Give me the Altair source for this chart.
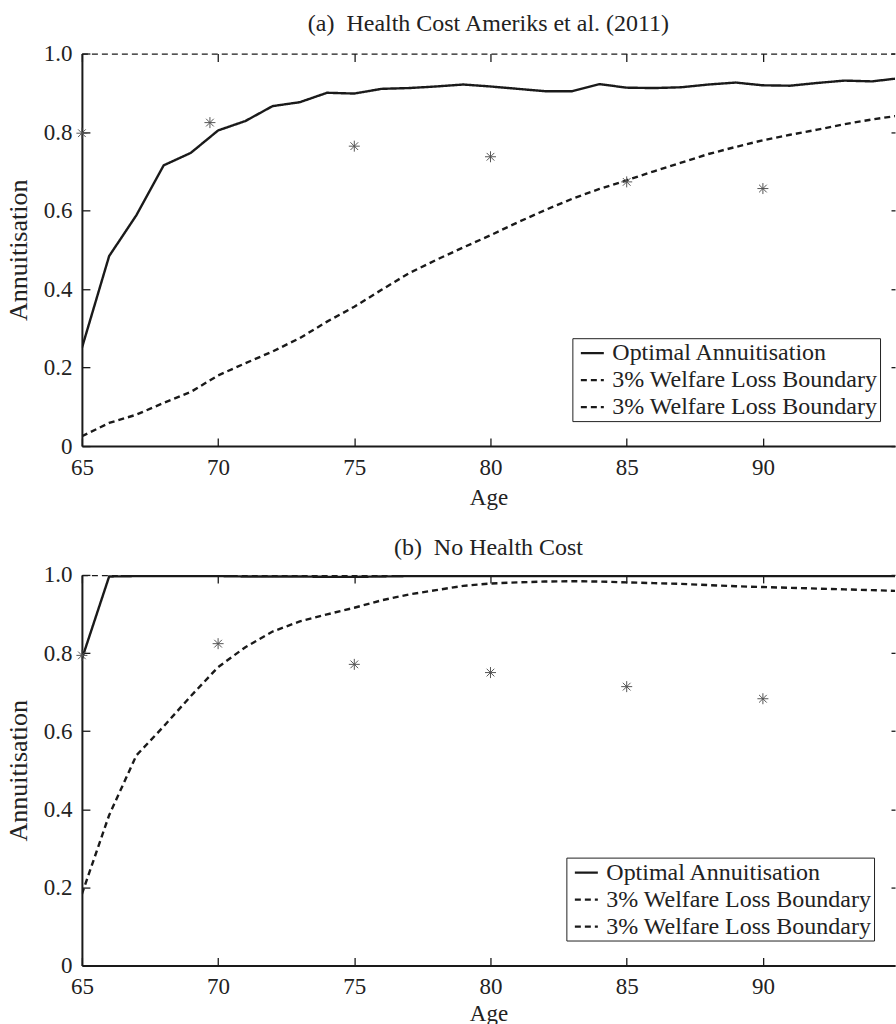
import altair as alt
import pandas as pd

FONT = "Liberation Serif"

AGES = [65, 66, 67, 68, 69, 70, 71, 72, 73, 74, 75, 76, 77, 78, 79, 80,
        81, 82, 83, 84, 85, 86, 87, 88, 89, 90, 91, 92, 93, 94, 95]

# Panel (a): Health Cost Ameriks et al. (2011)
OPT_A = [0.250, 0.484, 0.588, 0.715, 0.747, 0.804, 0.828, 0.866, 0.876, 0.900, 0.898,
         0.910, 0.912, 0.916, 0.921, 0.916, 0.910, 0.904, 0.904, 0.922, 0.913,
         0.912, 0.914, 0.921, 0.926, 0.919, 0.918, 0.925, 0.931, 0.929, 0.937]
LOW_A = [0.025, 0.059, 0.080, 0.110, 0.138, 0.180, 0.211, 0.241, 0.275, 0.317, 0.355,
         0.398, 0.440, 0.474, 0.506, 0.537, 0.570, 0.601, 0.630, 0.655, 0.677,
         0.700, 0.722, 0.744, 0.762, 0.779, 0.793, 0.806, 0.820, 0.832, 0.842]
UP_A = [1.0, 1.0, 1.0, 1.0, 1.0, 1.0, 1.0, 1.0, 1.0, 1.0, 1.0,
        1.0, 1.0, 1.0, 1.0, 1.0, 1.0, 1.0, 1.0, 1.0, 1.0,
        1.0, 1.0, 1.0, 1.0, 1.0, 1.0, 1.0, 1.0, 1.0, 1.0]
STAR_AGE_A = [65, 69.7, 75, 80, 85, 90]
STAR_A = [0.797, 0.824, 0.764, 0.737, 0.673, 0.656]

# Panel (b): No Health Cost
OPT_B = [0.785, 0.996, 0.997, 0.997, 0.997, 0.997, 0.996, 0.996, 0.996, 0.995, 0.995,
         0.996, 0.997, 0.997, 0.997, 0.997, 0.997, 0.997, 0.997, 0.997, 0.997,
         0.997, 0.997, 0.997, 0.997, 0.997, 0.997, 0.997, 0.997, 0.997, 0.997]
LOW_B = [0.183, 0.385, 0.538, 0.612, 0.690, 0.764, 0.815, 0.855, 0.881, 0.899, 0.916,
         0.935, 0.950, 0.961, 0.972, 0.978, 0.981, 0.983, 0.984, 0.983, 0.981,
         0.979, 0.977, 0.974, 0.971, 0.969, 0.967, 0.965, 0.963, 0.961, 0.959]
UP_B = [1.0, 1.0, 1.0, 1.0, 1.0, 1.0, 1.0, 1.0, 1.0, 1.0, 1.0,
        1.0, 1.0, 1.0, 1.0, 1.0, 1.0, 1.0, 1.0, 1.0, 1.0,
        1.0, 1.0, 1.0, 1.0, 1.0, 1.0, 1.0, 1.0, 1.0, 1.0]
STAR_AGE_B = [65, 70, 75, 80, 85, 90]
STAR_B = [0.794, 0.824, 0.771, 0.750, 0.714, 0.683]

SERIES = ["Optimal Annuitisation", "3% Welfare Loss Boundary", "3% Welfare Loss Boundary "]
X_TICKS = [65, 70, 75, 80, 85, 90]
Y_TICKS = [0, 0.2, 0.4, 0.6, 0.8, 1.0]
TITLE_A = "(a)\u00a0 Health Cost Ameriks et al. (2011)"
TITLE_B = "(b)\u00a0 No Health Cost"

ASTERISK = "M0,-1L0,1M-1,0L1,0M-0.7,-0.7L0.7,0.7M-0.7,0.7L0.7,-0.7"
INK = "#1a1a1a"


def make_panel(title, title_offset, opt, low, up, sx, sy, lx, ly, h, xtpad):
    n = len(AGES)
    df_bound = pd.DataFrame({"age": AGES + AGES, "val": low + up,
                             "series": [SERIES[1]] * n + [SERIES[2]] * n})
    df_opt = pd.DataFrame({"age": AGES, "val": opt, "series": [SERIES[0]] * n})
    df_star = pd.DataFrame({"age": sx, "val": sy})

    xs = alt.Scale(domain=[65, 94.85], nice=False, zero=False)
    ys = alt.Scale(domain=[0, 1], nice=False, zero=False)
    dash = alt.Scale(domain=SERIES, range=[[1, 0], [6, 4], [6, 4]])

    main_x = alt.Axis(orient="bottom", values=X_TICKS, title="Age", ticks=False, tickSize=0,
                      labelPadding=10, titlePadding=xtpad, domain=True, domainColor=INK,
                      domainWidth=2, grid=False, labelFlush=False, labelOverlap=False, format="d")
    main_y = alt.Axis(orient="left", values=Y_TICKS, title="Annuitisation", ticks=False,
                      tickSize=0, labelPadding=10, titlePadding=12, titleFontSize=26,
                      domain=True, domainColor=INK, domainWidth=2, grid=False,
                      labelFlush=False, labelOverlap=False,
                      labelExpr="datum.value == 0 ? '0' : format(datum.value, '.1f')")
    legend = alt.Legend(title=None, orient="none", legendX=lx, legendY=ly)

    bounds = alt.Chart(df_bound).mark_line(clip=True, strokeWidth=2.4, color=INK).encode(
        x=alt.X("age:Q", scale=xs, axis=main_x),
        y=alt.Y("val:Q", scale=ys, axis=main_y),
        strokeDash=alt.StrokeDash("series:N", scale=dash, legend=legend),
    )
    optl = alt.Chart(df_opt).mark_line(clip=True, strokeWidth=2.4, color=INK).encode(
        x=alt.X("age:Q", scale=xs, axis=None),
        y=alt.Y("val:Q", scale=ys, axis=None),
        strokeDash=alt.StrokeDash("series:N", scale=dash, legend=legend),
    )
    stars = alt.Chart(df_star).mark_point(shape=ASTERISK, size=121, filled=False,
                                          color="#555", strokeWidth=1.0, opacity=1).encode(
        x=alt.X("age:Q", scale=xs,
                axis=alt.Axis(orient="bottom", offset=-8, values=X_TICKS, labels=False,
                              domain=False, ticks=True, tickSize=8, tickColor=INK,
                              tickWidth=1.3, title=None, grid=False)),
        y=alt.Y("val:Q", scale=ys,
                axis=alt.Axis(orient="left", offset=-8, values=Y_TICKS, labels=False,
                              domain=False, ticks=True, tickSize=8, tickColor=INK,
                              tickWidth=1.3, title=None, grid=False)),
    )
    ghost = alt.Chart(df_star).mark_point(opacity=0).encode(
        x=alt.X("age:Q", scale=xs,
                axis=alt.Axis(orient="top", offset=-8, values=X_TICKS, labels=False,
                              domain=False, ticks=True, tickSize=8, tickColor=INK,
                              tickWidth=1.3, title=None, grid=False)),
        y=alt.Y("val:Q", scale=ys,
                axis=alt.Axis(orient="right", offset=-4, values=Y_TICKS, labels=False,
                              domain=False, ticks=True, tickSize=4, tickColor=INK,
                              tickWidth=1.3, title=None, grid=False)),
    )
    return alt.layer(bounds, optl, stars, ghost).resolve_axis(
        x="independent", y="independent"
    ).properties(
        width=814, height=h,
        title=alt.TitleParams(text=title, font=FONT, fontSize=24, fontWeight="normal",
                              anchor="middle", frame="group", offset=title_offset,
                              color="#222"),
    )


panel_a = make_panel(TITLE_A, 7, OPT_A, LOW_A, UP_A, STAR_AGE_A, STAR_A, 491, 285, 393, 7)
panel_b = make_panel(TITLE_B, 4, OPT_B, LOW_B, UP_B, STAR_AGE_B, STAR_B, 485, 283, 391, 4)

chart = alt.vconcat(panel_a, panel_b, spacing=27).resolve_scale(
    strokeDash="independent"
).resolve_legend(
    strokeDash="independent"
).properties(
    padding={"left": 5, "top": 11, "right": 0, "bottom": 0},
    background="white",
).configure_axis(
    labelFont=FONT, titleFont=FONT, labelFontSize=23, titleFontSize=23,
    labelColor="#222", titleColor="#222", titleFontWeight="normal", grid=False,
).configure_view(
    stroke=None
).configure_legend(
    labelFont=FONT, labelFontSize=24, labelColor="#222", labelLimit=400,
    strokeColor="#222", fillColor="white", padding=2, rowPadding=2,
    symbolType="stroke", symbolSize=529, symbolStrokeWidth=2.2,
    symbolStrokeColor=INK, symbolOffset=5, labelOffset=7,
)

chart.save("out.html", embed_options={"renderer": "svg", "actions": False})
